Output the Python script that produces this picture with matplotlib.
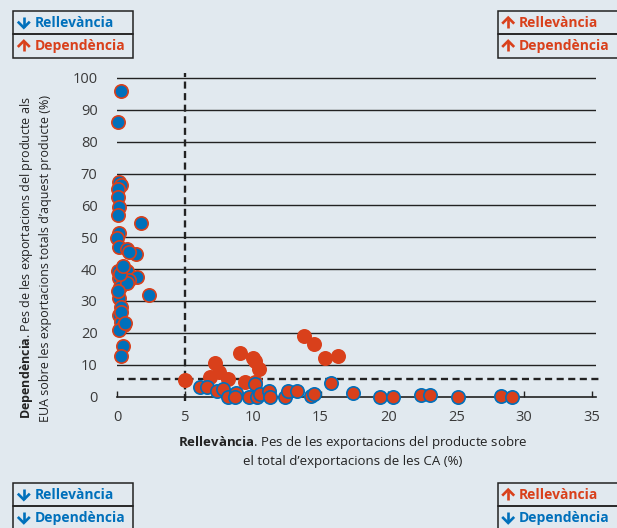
import matplotlib
matplotlib.use("Agg")
import matplotlib.pyplot as plt
from matplotlib.lines import Line2D
from matplotlib.patches import Rectangle

# Colours
BG = "#e1e9ef"
BLUE = "#0070bb"
RED = "#d9401b"
DARK = "#222222"

plt.rcParams["font.family"] = ["Open Sans", "DejaVu Sans"]
plt.rcParams["mathtext.fontset"] = "custom"
plt.rcParams["mathtext.rm"] = "Open Sans"
plt.rcParams["mathtext.bf"] = "Open Sans:bold"

# Low relevance, high dependence (blue fill, red edge)
low_rel_x = [0.27, 0.08, 0.13, 0.33, 0.08, 0.08, 0.13, 0.08, 1.74, 0.13, 0.0, 0.13,
             0.77, 1.37, 0.9, 0.08, 0.77, 1.5, 0.9, 0.13, 0.22, 0.77, 2.34, 0.13,
             0.27, 0.13, 0.27, 0.55, 0.13, 0.41, 0.33, 0.2, 0.1, 0.3, 0.6, 0.45]
low_rel_y = [96.0, 86.1, 67.4, 66.4, 65.1, 62.7, 59.6, 57.0, 54.4, 51.2, 49.9, 47.0,
             46.3, 44.8, 45.5, 39.4, 39.5, 37.6, 36.6, 37.1, 34.5, 35.5, 31.9, 31.0,
             28.2, 25.6, 23.5, 22.4, 20.9, 16.0, 12.8, 38.5, 33.0, 26.5, 23.0, 41.0]

# High relevance, high dependence (red fill, red edge)
high_both_x = [5.0, 6.86, 7.24, 7.55, 8.2, 9.07, 9.4, 10.0, 10.2, 10.5, 10.2, 13.8,
               14.55, 15.3, 16.3]
high_both_y = [5.2, 6.0, 10.6, 7.8, 5.4, 13.6, 4.7, 12.0, 11.3, 8.6, 4.6, 19.0,
               16.4, 12.2, 12.7]

# High relevance, low dependence (red fill, blue edge)
high_rel_x = [6.1, 6.6, 7.4, 7.8, 8.2, 8.8, 8.7, 9.7, 10.2, 10.3, 10.55, 11.2, 11.3,
              12.4, 12.6, 13.3, 14.3, 14.5, 15.8, 17.4, 19.4, 20.35, 22.4, 23.1,
              25.1, 28.3, 29.1]
high_rel_y = [2.9, 3.0, 1.8, 2.4, 0.0, 1.0, 0.0, 0.0, 3.8, 0.0, 0.8, 1.7, 0.0,
              0.0, 1.8, 1.7, 0.2, 0.8, 4.3, 1.2, 0.0, 0.0, 0.5, 0.5,
              0.0, 0.2, 0.0]

rel_threshold = 5
dep_threshold = 5.5

x_ticks = [0, 5, 10, 15, 20, 25, 30, 35]
y_ticks = [0, 10, 20, 30, 40, 50, 60, 70, 80, 90, 100]

W, H = 617, 528
fig = plt.figure(figsize=(W / 100, H / 100), dpi=100, facecolor=BG)
ax = fig.add_axes([117 / W, 1 - 396.5 / H, 479 / W, 323.3 / H])
ax.set_facecolor(BG)
ax.set_xlim(0, 35.3)
ax.set_ylim(0, 101.5)

# Gridlines
for yv in y_ticks[1:]:
    ax.axhline(yv, color=DARK, lw=1.0, zorder=1)

for s in ["top", "right", "left"]:
    ax.spines[s].set_visible(False)
ax.spines["bottom"].set_color(DARK)
ax.spines["bottom"].set_linewidth(1.2)

ax.set_xticks(x_ticks)
ax.set_yticks(y_ticks)
ax.tick_params(axis="x", direction="in", length=4, width=1, color=DARK, pad=10,
               labelsize=10.5, labelcolor="#3a3a3a")
ax.tick_params(axis="y", length=0, pad=14, labelsize=10.5, labelcolor="#3a3a3a")

# Threshold lines
ax.plot([rel_threshold, rel_threshold], [-1.5, 101.5], color=DARK, lw=1.7,
        dashes=(3, 1.9), clip_on=False, zorder=2)
ax.plot([0, 35.5], [dep_threshold, dep_threshold], color=DARK, lw=1.7,
        dashes=(3, 1.9), clip_on=False, zorder=2)

# Points
ax.scatter(low_rel_x, low_rel_y, s=92, facecolor=BLUE, edgecolor=RED, linewidth=1.2,
           clip_on=False, zorder=3)
ax.scatter(high_both_x, high_both_y, s=92, facecolor=RED, edgecolor=RED, linewidth=1.2,
           clip_on=False, zorder=3)
ax.scatter(high_rel_x, high_rel_y, s=92, facecolor=RED, edgecolor=BLUE, linewidth=1.2,
           clip_on=False, zorder=4)

# Axis labels
fig.text(353 / W, 1 - 451 / H,
         "$\\mathbf{Rellevància}$. Pes de les exportacions del producte sobre\n"
         "el total d\u2019exportacions de les CA (%)",
         ha="center", va="center", ma="center", fontsize=9.5, color="#222222",
         linespacing=1.35)
fig.text(35 / W, 1 - 258 / H,
         "$\\mathbf{Dependència}$. Pes de les exportacions del producte als\n"
         "EUA sobre les exportacions totals d\u2019aquest producte (%)",
         ha="center", va="center", ma="center", rotation=90, fontsize=9,
         color="#222222", linespacing=1.35)


def px_line(xs, ys, color, lw):
    # draw a line given in pixel coordinates (y measured from the top)
    fig.add_artist(Line2D([x / W for x in xs], [1 - y / H for y in ys],
                          transform=fig.transFigure, color=color, lw=lw,
                          solid_capstyle="butt", solid_joinstyle="miter"))


def arrow(cx, cy, up, color):
    d = -1 if up else 1
    tip = cy + d * 5
    px_line([cx, cx], [cy - d * 5.5, tip - d * 1], color, 1.9)
    px_line([cx - 6, cx, cx + 6], [tip - d * 6, tip, tip - d * 6], color, 1.9)


# Corner boxes
boxes = [
    (13.3, 11, [(False, "Rellevància", BLUE), (True, "Dependència", RED)]),
    (497.7, 11, [(True, "Rellevància", RED), (True, "Dependència", RED)]),
    (13.3, 483, [(False, "Rellevància", BLUE), (False, "Dependència", BLUE)]),
    (497.7, 483, [(True, "Rellevància", RED), (False, "Dependència", BLUE)]),
]
bw, bh = 120, 23.3
for bx, by, rows in boxes:
    for i, (up, word, col) in enumerate(rows):
        top = by + i * bh
        yc = top + bh / 2
        fig.patches.append(Rectangle((bx / W, 1 - (top + bh) / H), bw / W, bh / H,
                                     transform=fig.transFigure, facecolor="none",
                                     edgecolor=DARK, lw=1.1))
        arrow(bx + 10.5, yc, up, col)
        fig.text((bx + 21.5) / W, 1 - yc / H, word, ha="left", va="center",
                 fontsize=10, fontweight="bold", color=col)

fig.savefig("out.png", dpi=100, facecolor=BG)
